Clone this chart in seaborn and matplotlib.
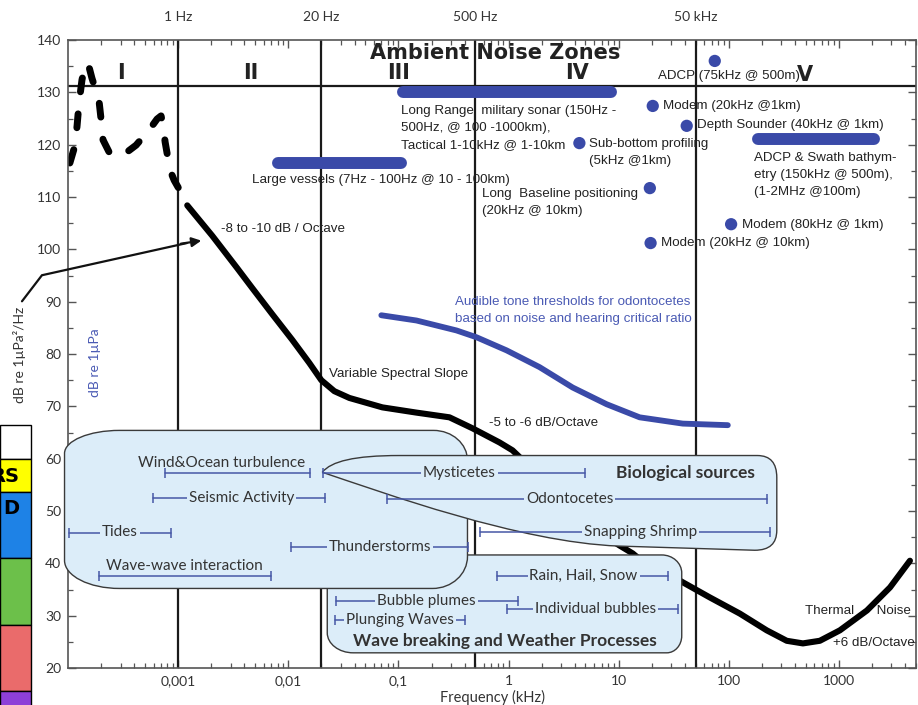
import numpy as np
import matplotlib
matplotlib.use("Agg")
import matplotlib.pyplot as plt
import seaborn as sns
from matplotlib.path import Path
from matplotlib.patches import PathPatch, Rectangle
from matplotlib.ticker import FixedLocator, FixedFormatter, NullFormatter

# ---------------- data ----------------
# ambient noise spectrum (kHz, dB re 1uPa^2/Hz) - dashed very-low-frequency part
dash_freq = [1.04e-4, 1.16e-4, 1.21e-4, 1.26e-4, 1.34e-4, 1.43e-4, 1.52e-4, 1.65e-4,
             1.91e-4, 2.0e-4, 2.08e-4, 2.36e-4, 2.85e-4, 3.44e-4, 4.15e-4, 5.45e-4,
             6.44e-4, 7.0e-4, 7.31e-4, 7.62e-4, 8.45e-4, 9.2e-4, 1.135e-3, 1.21e-3]
dash_db = [116.5, 119.9, 123.7, 128.0, 132.4, 135.0, 135.6, 132.7,
           128.5, 124.7, 120.9, 118.6, 117.8, 118.6, 119.9, 122.8,
           124.9, 125.5, 123.7, 120.5, 115.1, 113.2, 109.8, 108.4]
# solid part
solid_freq = [1.21e-3, 2.04e-3, 3.44e-3, 4.71e-3, 7.16e-3, 0.01087, 0.01552, 0.01995,
              0.0262, 0.0359, 0.0716, 0.146, 0.291, 0.471, 0.828, 1.086, 2.91, 6.71, 10.2,
              13.4, 19.1, 35.9, 67.1, 125.9, 221, 336, 471, 671, 1021, 1799, 2911, 4416]
solid_db = [108.4, 102.6, 96.4, 92.6, 87.6, 82.7, 78.3, 75.0,
            72.9, 71.6, 69.8, 68.8, 67.9, 65.8, 63.1, 61.6, 53.0, 45.9, 43.4,
            41.9, 39.2, 36.7, 33.5, 30.4, 27.2, 25.2, 24.7, 25.2, 27.2, 31.0, 35.4, 40.5]
# audible tone thresholds for odontocetes (dB re 1uPa)
thr_freq = [0.070, 0.146, 0.337, 0.512, 0.959, 1.91, 3.82, 7.78, 15.5, 38.2, 98.0]
thr_db = [87.4, 86.4, 84.5, 83.2, 80.7, 77.5, 73.6, 70.4, 67.9, 66.7, 66.4]

# zone boundaries
zone_freq = [0.001, 0.02, 0.5, 50]
zone_top_labels = ["1 Hz", "20 Hz", "500 Hz", "50 kHz"]
zone_names = ["I", "II", "III", "IV", "V"]
zone_name_freq = [3.0e-4, 4.6e-3, 0.1, 4.2, 490]
zone_name_db = [133.7, 133.7, 133.7, 133.7, 133.3]
zone_hline_db = 131.2

# anthropogenic sources: bands (start, end, level)
band_names = ["Large vessels", "Military sonar", "ADCP & Swath"]
band_start = [0.008, 0.11, 185]
band_end = [0.105, 8.5, 2100]
band_db = [116.5, 130.1, 121.0]
# single-frequency sources
dot_names = ["ADCP 75k", "Modem 20k 1km", "Depth sounder", "Sub-bottom", "LBL", "Modem 80k", "Modem 20k 10km"]
dot_freq = [74.6, 20.4, 41.5, 4.4, 19.2, 105, 19.5]
dot_db = [136.0, 127.4, 123.6, 120.3, 111.7, 104.8, 101.2]

# natural source frequency ranges (kHz) and row level
geo_names = ["Wind&Ocean turbulence", "Seismic Activity", "Tides", "Wave-wave interaction", "Thunderstorms"]
geo_lo = [7.6e-4, 5.9e-4, 1.02e-4, 1.9e-4, 0.0106]
geo_hi = [0.0158, 0.0217, 8.6e-4, 6.9e-3, 0.43]
geo_db = [57.3, 52.5, 45.8, 37.6, 43.1]
bio_names = ["Mysticetes", "Odontocetes", "Snapping Shrimp"]
bio_lo = [0.0208, 0.078, 0.556]
bio_hi = [5.0, 221, 236]
bio_db = [57.3, 52.3, 46.0]
wx_names = ["Rain, Hail, Snow", "Bubble plumes", "Plunging Waves", "Individual bubbles"]
wx_lo = [0.78, 0.0273, 0.0267, 0.96]
wx_hi = [27.9, 1.21, 0.40, 34.4]
wx_db = [37.6, 32.8, 29.2, 31.3]

# ---------------- style ----------------
sns.set_theme(style="ticks")
plt.rcParams['font.family'] = ['Lato', 'DejaVu Sans']
NARROW = ['Liberation Sans', 'DejaVu Sans']
BLUE = "#3a4aa8"
BLUE_T = "#4a5ab4"
RBAR = "#4657a6"
FILL = "#dcedf9"
EDGE = "#3a3a3a"
TXT = "#333333"

XMIN, XMAX = 1e-4, 10 ** 3.7
YMIN, YMAX = 20, 140
LX0, LX1 = np.log10(XMIN), np.log10(XMAX)
AXW, AXH = 848.0, 628.0

fig = plt.figure(figsize=(9.18, 7.05), dpi=100)
ax = fig.add_axes([68 / 918, 37 / 705, 848 / 918, 628 / 705])
ax.set_xscale('log')
ax.set_xlim(XMIN, XMAX)
ax.set_ylim(YMIN, YMAX)

for s in ax.spines.values():
    s.set_color("#555555")
    s.set_linewidth(1.2)

# ticks
maj = [10.0 ** k for k in range(-3, 4)]
ax.xaxis.set_major_locator(FixedLocator(maj))
ax.xaxis.set_major_formatter(FixedFormatter(["0,001", "0,01", "0,1", "1", "10", "100", "1000"]))
mins = [m * 10.0 ** k for k in range(-4, 4) for m in range(2, 10) if m * 10.0 ** k < XMAX]
ax.xaxis.set_minor_locator(FixedLocator(mins))
ax.xaxis.set_minor_formatter(NullFormatter())
ax.yaxis.set_major_locator(FixedLocator(list(range(20, 141, 10))))
ax.yaxis.set_minor_locator(FixedLocator(list(range(25, 140, 10))))
ax.tick_params(which='both', direction='in', top=True, right=True, colors="#555555",
               labelcolor=TXT, labelsize=10)
ax.tick_params(which='major', length=6, width=1.0)
ax.tick_params(which='minor', length=3.5, width=0.9)
ax.tick_params(axis='x', pad=5)
ax.tick_params(axis='y', pad=5)
ax.set_xlabel("Frequency (kHz)", fontsize=10.5, color=TXT, labelpad=2)
ax.set_ylabel("")

# zone lines
for f in zone_freq:
    ax.axvline(f, color="#1a1a1a", lw=1.6, zorder=1)
ax.axhline(zone_hline_db, color="#1a1a1a", lw=1.6, zorder=1)
for f, lab in zip(zone_freq, zone_top_labels):
    ax.text(f, 1.037, lab, transform=ax.get_xaxis_transform(), ha='center', va='center',
            fontsize=10, color=TXT)
for f, y, lab in zip(zone_name_freq, zone_name_db, zone_names):
    ax.text(f, y, lab, ha='center', va='center', fontsize=15, fontweight='bold',
            family='DejaVu Sans', color="#222222", zorder=6)
ax.text(0.76, 137.5, "Ambient Noise Zones", ha='center', va='center', fontsize=15,
        fontweight='bold', family='DejaVu Sans', color="#222222", zorder=6)

# noise curves
sns.lineplot(x=dash_freq, y=dash_db, ax=ax, color='black', lw=5, sort=False,
             estimator=None, zorder=2)
ln = ax.lines[-1]
ln.set_dashes([2.0, 3.2])
ln.set_dash_capstyle('round')
sns.lineplot(x=solid_freq, y=solid_db, ax=ax, color='black', lw=4.4, sort=False,
             estimator=None, zorder=2)
ax.lines[-1].set_solid_capstyle('round')
ax.lines[-1].set_solid_joinstyle('round')
sns.lineplot(x=thr_freq, y=thr_db, ax=ax, color=BLUE, lw=4.2, sort=False,
             estimator=None, zorder=2)
ax.lines[-1].set_solid_capstyle('round')
ax.lines[-1].set_solid_joinstyle('round')

# anthropogenic bands and points
for x0, x1, y in zip(band_start, band_end, band_db):
    ax.plot([x0, x1], [y, y], color=BLUE, lw=8.6, solid_capstyle='round', zorder=6)
sns.scatterplot(x=dot_freq, y=dot_db, ax=ax, color=BLUE, s=78, edgecolor='none', zorder=6)


def ntext(x, y, s, color="#222222", ha='left', **kw):
    ax.text(x, y, s, ha=ha, va='center', fontsize=9.6, family=NARROW, color=color,
            linespacing=1.55, zorder=7, **kw)


ntext(22.6, 133.1, "ADCP (75kHz @ 500m)")
ntext(25.1, 127.4, "Modem (20kHz @1km)")
ntext(51.2, 123.7, "Depth Sounder (40kHz @ 1km)")
ntext(5.33, 118.5, "Sub-bottom profiling\n(5kHz @1km)")
ntext(0.106, 123.2, "Long Range  military sonar (150Hz -\n500Hz, @ 100 -1000km),\nTactical 1-10kHz @ 1-10km")
ntext(0.0047, 113.2, "Large vessels (7Hz - 100Hz @ 10 - 100km)")
ntext(0.58, 108.9, "Long  Baseline positioning\n(20kHz @ 10km)")
ntext(169, 114.2, "ADCP & Swath bathym-\netry (150kHz @ 500m),\n(1-2MHz @100m)")
ntext(131, 104.6, "Modem (80kHz @ 1km)")
ntext(24.1, 101.2, "Modem (20kHz @ 10km)")
ntext(0.00246, 103.85, "-8 to -10 dB / Octave")
ntext(0.0236, 76.1, "Variable Spectral Slope")
ntext(0.671, 66.9, "-5 to -6 dB/Octave")
ntext(491, 30.8, "Thermal      Noise")
ntext(881, 24.7, "+6 dB/Octave")
ntext(0.33, 88.25, "Audible tone thresholds for odontocetes\nbased on noise and hearing critical ratio",
      color=BLUE_T)

# arrow pointing to the slope
ax.plot([3.82e-5, 5.8e-5, 1.2e-3], [90.07, 95.05, 101.2], color='#111111', lw=1.6,
        clip_on=False, zorder=6, solid_joinstyle='miter')
ax.annotate("", xy=(1.72e-3, 101.74), xytext=(1.0e-3, 101.0),
            arrowprops=dict(arrowstyle='-|>', color='#111111', lw=1.6, mutation_scale=14),
            zorder=6)


# ---------------- source boxes ----------------
def fxy(lx, y):
    return ((lx - LX0) / (LX1 - LX0), (y - YMIN) / (YMAX - YMIN))


K = 0.5523


def rounded_box(x0, x1, y0, y1, r):
    X0, Y0 = fxy(np.log10(x0), y0)
    X1, Y1 = fxy(np.log10(x1), y1)
    R = {k: (v[0] / AXW, v[1] / AXH) for k, v in r.items()}
    bl, br, tr, tl = R['bl'], R['br'], R['tr'], R['tl']
    v = [(X0 + bl[0], Y0), (X1 - br[0], Y0),
         (X1 - br[0] + K * br[0], Y0), (X1, Y0 + br[1] - K * br[1]), (X1, Y0 + br[1]),
         (X1, Y1 - tr[1]),
         (X1, Y1 - tr[1] + K * tr[1]), (X1 - tr[0] + K * tr[0], Y1), (X1 - tr[0], Y1),
         (X0 + tl[0], Y1),
         (X0 + tl[0] - K * tl[0], Y1), (X0, Y1 - tl[1] + K * tl[1]), (X0, Y1 - tl[1]),
         (X0, Y0 + bl[1]),
         (X0, Y0 + bl[1] - K * bl[1]), (X0 + bl[0] - K * bl[0], Y0), (X0 + bl[0], Y0),
         (X0 + bl[0], Y0)]
    c = [Path.MOVETO, Path.LINETO, Path.CURVE4, Path.CURVE4, Path.CURVE4, Path.LINETO,
         Path.CURVE4, Path.CURVE4, Path.CURVE4, Path.LINETO, Path.CURVE4, Path.CURVE4,
         Path.CURVE4, Path.LINETO, Path.CURVE4, Path.CURVE4, Path.CURVE4, Path.CLOSEPOLY]
    return Path(v, c)


# weather / wave breaking box (bottom)
p3 = rounded_box(0.0226, 37.4, 22.9, 41.6, dict(bl=(26, 20), br=(15, 17), tr=(20, 18), tl=(10, 10)))
ax.add_patch(PathPatch(p3, transform=ax.transAxes, facecolor=FILL, edgecolor=EDGE, lw=1.0,
                       zorder=3, clip_on=False))
# geophysical box
p1 = rounded_box(9.3e-5, 0.424, 35.2, 65.4, dict(bl=(55, 28), br=(35, 32), tr=(34, 30), tl=(55, 23)))
ax.add_patch(PathPatch(p1, transform=ax.transAxes, facecolor=FILL, edgecolor=EDGE, lw=1.0,
                       zorder=4, clip_on=False))
# biological box (pointed left end)
T = (-1.691, 57.4)
bio_pts = [T, (-1.61, 59.5), (-1.40, 60.6), (-0.99, 60.6),
           (2.26, 60.6), (2.436, 60.6), (2.436, 56.4),
           (2.436, 46.3), (2.436, 42.5), (2.236, 42.5),
           (1.0, 43.3), (0.1, 44.0), (-1.15, 53.6), T, T]
bio_codes = [Path.MOVETO, Path.CURVE4, Path.CURVE4, Path.CURVE4,
             Path.LINETO, Path.CURVE3, Path.CURVE3,
             Path.LINETO, Path.CURVE3, Path.CURVE3,
             Path.LINETO, Path.CURVE4, Path.CURVE4, Path.CURVE4, Path.CLOSEPOLY]
p2 = Path([fxy(a, b) for a, b in bio_pts], bio_codes)
ax.add_patch(PathPatch(p2, transform=ax.transAxes, facecolor=FILL, edgecolor=EDGE, lw=1.0,
                       zorder=5))


def range_bars(lo, hi, lev, z):
    for a, b, y in zip(lo, hi, lev):
        ax.plot([a, b], [y, y], color=RBAR, lw=1.1, marker='|', ms=7, mew=1.1, zorder=z,
                clip_on=False)


def btext(x, y, s, z, bg=True, size=11, **kw):
    bb = dict(boxstyle='square,pad=0.12', fc=FILL, ec='none') if bg else None
    ax.text(x, y, s, ha='center', va='center', fontsize=size, color=TXT, zorder=z + 0.5,
            bbox=bb, **kw)


range_bars(wx_lo, wx_hi, wx_db, 3.2)
range_bars(geo_lo, geo_hi, geo_db, 4.2)
range_bars(bio_lo, bio_hi, bio_db, 5.2)

btext(0.00246, 59.2, "Wind&Ocean turbulence", 4.2, bg=False)
btext(0.00374, 52.5, "Seismic Activity", 4.2)
btext(2.97e-4, 46.0, "Tides", 4.2)
btext(1.13e-3, 39.5, "Wave-wave interaction", 4.2, bg=False)
btext(0.0686, 43.1, "Thunderstorms", 4.2)
btext(0.359, 57.3, "Mysticetes", 5.2)
btext(3.59, 52.3, "Odontocetes", 5.2)
btext(15.9, 46.0, "Snapping Shrimp", 5.2)
btext(40.6, 57.3, "Biological sources", 5.2, bg=False, size=12.5, fontweight='bold')
btext(4.8, 37.6, "Rain, Hail, Snow", 3.2)
btext(0.18, 32.8, "Bubble plumes", 3.2)
btext(0.104, 29.2, "Plunging Waves", 3.2)
btext(6.18, 31.3, "Individual bubbles", 3.2)
btext(0.92, 25.2, "Wave breaking and Weather Processes", 3.2, bg=False, size=12.5,
      fontweight='bold')

# axis titles
fig.text(20 / 918, 1 - 355 / 705, "dB re 1µPa²/Hz", rotation=90, ha='center', va='center',
         fontsize=10, color=TXT)
fig.text(95 / 918, 1 - 363 / 705, "dB re 1µPa", rotation=90, ha='center', va='center',
         fontsize=10, color=BLUE_T)

# cropped colour table at the far left
cells = [(425, 459, "#ffffff", ""), (459, 492, "#ffff00", "RS"), (492, 558, "#1e82e6", "D"),
         (558, 625, "#6cc04a", ""), (625, 691, "#ea6b6b", ""), (691, 706, "#8e3fd8", "")]
for top, bot, col, lab in cells:
    fig.patches.append(Rectangle((0, 1 - bot / 705), 31 / 918, (bot - top) / 705,
                                 transform=fig.transFigure, facecolor=col, edgecolor='black',
                                 lw=1.0))
    if lab:
        fig.text(19 / 918, 1 - (top + 17) / 705, lab, ha='right', va='center', fontsize=14,
                 fontweight='bold', family='DejaVu Sans', color='black')

fig.savefig("out.png", dpi=100)
